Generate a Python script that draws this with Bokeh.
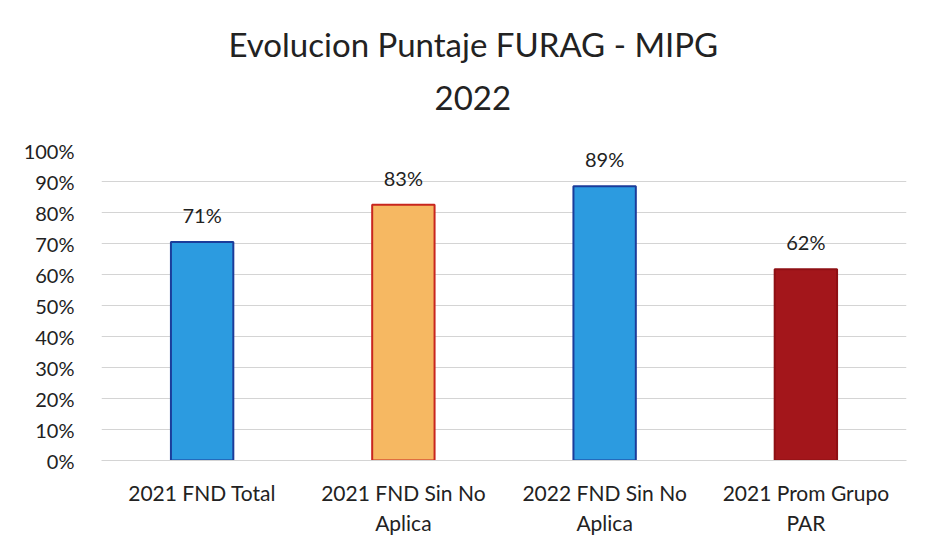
from bokeh.plotting import figure
from bokeh.models import ColumnDataSource, Title, Range1d, FactorRange, NumeralTickFormatter, SingleIntervalTicker
from bokeh.core.properties import value
from bokeh.embed import file_html
from bokeh.resources import INLINE

categories = ["2021 FND Total", "2021 FND Sin No\nAplica", "2022 FND Sin No\nAplica", "2021 Prom Grupo\nPAR"]
values = [0.705, 0.825, 0.885, 0.617]
labels = ["71%", "83%", "89%", "62%"]
fill_colors = ["#2C9BE0", "#F6B862", "#2C9BE0", "#A3161B"]
line_colors = ["#1B3C9A", "#C8261E", "#1B3C9A", "#8E1014"]
title_lines = ["Evolucion Puntaje FURAG - MIPG", "2022"]

FONT = "Lato"

src = ColumnDataSource(dict(cat=categories, val=values, lab=labels, fc=fill_colors, lc=line_colors))

p = figure(width=910, height=537, x_range=FactorRange(*categories, range_padding=0.0),
           y_range=Range1d(0, 1.0), output_backend="svg", toolbar_location=None,
           min_border_left=101, min_border_right=4, min_border_bottom=75, min_border_top=20)
p.x_range.factor_padding = 0.0

p.vbar(x="cat", top="val", width=0.31, source=src, fill_color="fc", line_color="lc", line_width=2)
p.text(x="cat", y="val", text="lab", source=src, text_align="center", text_baseline="bottom",
       y_offset=-15, text_font=value(FONT), text_font_size="20px", text_color="#222222")

def spacer(s):
    return Title(text=" ", text_font=FONT, text_font_size="10px", standoff=s)

p.add_layout(spacer(14), "above")
p.add_layout(Title(text=title_lines[1], align="left", text_font=FONT, text_font_size="33px",
                   text_font_style="normal", text_color="#222222", standoff=26, offset=333), "above")
p.add_layout(Title(text=title_lines[0], align="left", text_font=FONT,
                   text_font_size="33px", text_font_style="normal", text_color="#222222", standoff=14,
                   offset=127), "above")
p.add_layout(spacer(0), "above")

p.yaxis.ticker = SingleIntervalTicker(interval=0.1)
p.yaxis.formatter = NumeralTickFormatter(format="0%")
p.yaxis.axis_line_color = None
p.yaxis.major_tick_line_color = None
p.yaxis.minor_tick_line_color = None
p.yaxis.major_label_standoff = 21
p.yaxis.major_label_text_font = FONT
p.yaxis.major_label_text_font_size = "20px"
p.yaxis.major_label_text_color = "#222222"

p.xaxis.axis_line_color = "#d4d4d4"
p.xaxis.major_tick_line_color = None
p.xaxis.minor_tick_line_color = None
p.xaxis.major_label_standoff = 13
p.xaxis.major_label_text_font = FONT
p.xaxis.major_label_text_font_size = "21px"
p.xaxis.major_label_text_color = "#222222"

p.xgrid.grid_line_color = None
p.ygrid.grid_line_color = "#d4d4d4"
p.outline_line_color = None
p.background_fill_color = "white"
p.border_fill_color = "white"

open("out.html", "w").write(file_html(p, INLINE))
